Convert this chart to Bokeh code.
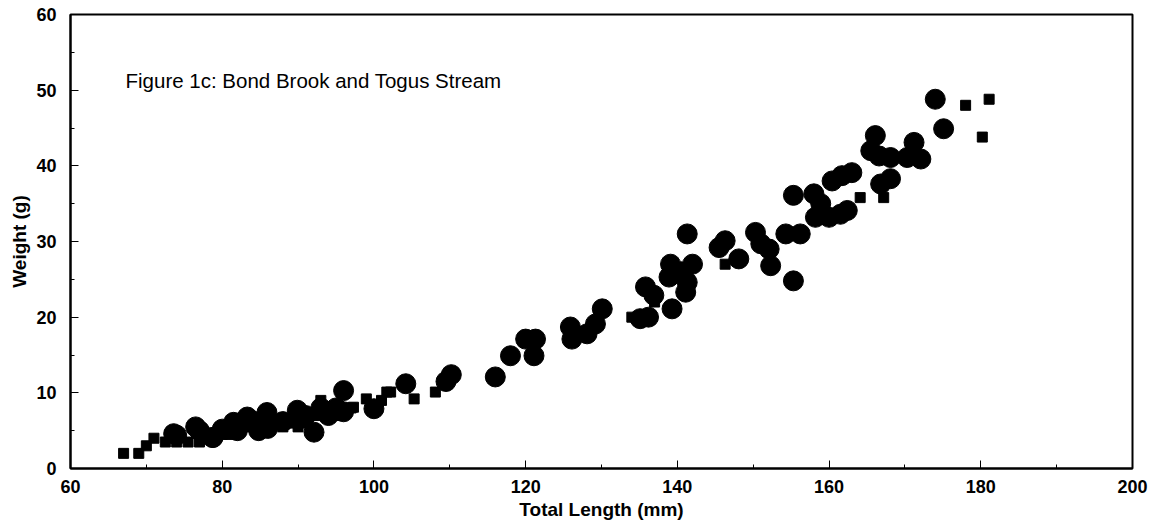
from bokeh.plotting import figure
from bokeh.embed import file_html
from bokeh.resources import INLINE
from bokeh.models import Label, FixedTicker

# Circles (one sample)
circle_len = [74, 77, 78.7, 80, 81.5, 82, 84, 84.8, 85.7, 86, 88, 89.9, 90, 91, 92.1, 93, 94, 95, 96, 96,
              100, 104.2, 109.5, 110.2, 116, 118, 120, 121.3, 121.1, 125.9, 126.1, 128.1, 129.2, 130.1,
              135.1, 136.2, 135.8, 136.9, 138.9, 139.1, 139.3, 141.1, 141.3, 141.3, 142, 140.5,
              145.5, 146.3, 148.1, 150.3, 151, 152.1, 152.3, 154.3, 155.3, 155.3, 156.2,
              158, 158.2, 158.9, 160, 161.5, 162.4, 160.4, 161.7, 163, 165.5, 166.1, 166.6, 168.1,
              166.8, 168.1, 170.3, 171.2, 172.1, 174, 175.1, 73.6, 76.5, 78.8, 83.3, 85.9]
circle_wt = [4.4, 5.0, 4.1, 5.2, 6.1, 5.0, 6.3, 5.0, 6.6, 5.3, 6.2, 7.7, 6.5, 7.0, 4.8, 8.0, 7.0, 8.0, 10.3, 7.5,
             7.9, 11.2, 11.5, 12.4, 12.1, 14.9, 17.1, 17.1, 14.9, 18.7, 17.1, 17.8, 19.1, 21.1,
             19.8, 20.0, 24.0, 22.9, 25.3, 27.0, 21.1, 23.3, 24.6, 31.0, 27.0, 26.0,
             29.2, 30.1, 27.7, 31.2, 29.7, 29.0, 26.8, 31.0, 36.1, 24.8, 31.0,
             36.3, 33.2, 35.0, 33.2, 33.6, 34.1, 38.0, 38.7, 39.1, 42.0, 44.0, 41.3, 41.1,
             37.6, 38.3, 41.1, 43.1, 40.9, 48.8, 44.9, 4.6, 5.5, 4.1, 6.8, 7.4]

# Squares (other sample)
square_len = [67, 69, 70, 71, 72.5, 74, 75.5, 77, 78, 80, 81, 82, 83, 85, 86, 88, 89, 90, 91,
              92.5, 93, 94, 95, 97, 97.3, 99, 101, 101.7, 102.2, 105.3, 108.1,
              134, 137, 139.5, 146.3, 164.1, 167.2, 178, 181.1, 180.2]
square_wt = [2.0, 2.0, 3.0, 4.0, 3.5, 3.5, 3.5, 3.5, 4.0, 4.5, 4.5, 5.0, 5.5, 5.5, 5.0, 5.5, 6.0, 5.5, 6.0,
             7.0, 9.0, 7.5, 7.0, 8.0, 8.1, 9.2, 9.0, 10.1, 10.1, 9.2, 10.1,
             20.0, 22.0, 21.0, 27.0, 35.8, 35.8, 48.0, 48.8, 43.8]

x_ticks = [60, 80, 100, 120, 140, 160, 180, 200]
x_minor = [70, 90, 110, 130, 150, 170, 190]
y_ticks = [0, 10, 20, 30, 40, 50, 60]
y_minor = [5, 15, 25, 35, 45, 55]
title_text = "Figure 1c: Bond Brook and Togus Stream"

p = figure(width=1156, height=527, x_range=(60, 200), y_range=(0, 60),
           output_backend="svg", toolbar_location=None,
           min_border_left=70, min_border_right=24, min_border_top=14, min_border_bottom=59)

p.xgrid.visible = False
p.ygrid.visible = False
p.outline_line_color = "black"
p.outline_line_width = 2
p.background_fill_color = "white"
p.border_fill_color = "white"

for ax in (p.xaxis[0], p.yaxis[0]):
    ax.major_tick_in = 8
    ax.major_tick_out = 0
    ax.minor_tick_in = 4
    ax.minor_tick_out = 0
    ax.axis_line_color = "black"
    ax.axis_line_width = 2
    ax.major_tick_line_color = "black"
    ax.minor_tick_line_color = "black"
    ax.major_label_text_font = "Liberation Sans"
    ax.major_label_text_font_style = "bold"
    ax.major_label_text_font_size = "18px"
    ax.major_label_text_color = "black"
    ax.axis_label_text_font = "Liberation Sans"
    ax.axis_label_text_font_style = "bold"
    ax.axis_label_text_font_size = "19px"
    ax.axis_label_text_color = "black"

p.xaxis[0].ticker = FixedTicker(ticks=x_ticks, minor_ticks=x_minor)
p.yaxis[0].ticker = FixedTicker(ticks=y_ticks, minor_ticks=y_minor)
p.xaxis[0].axis_label = "Total Length (mm)"
p.yaxis[0].axis_label = "Weight (g)"
p.xaxis[0].major_label_standoff = 11
p.yaxis[0].major_label_standoff = 14
p.xaxis[0].axis_label_standoff = 3
p.yaxis[0].axis_label_standoff = 3

p.scatter(square_len, square_wt, marker="square", size=10, color="black")
p.scatter(circle_len, circle_wt, marker="circle", size=20, color="black")

p.add_layout(Label(x=55, y=388, x_units="screen", y_units="screen", text=title_text,
                   text_font="Liberation Sans", text_font_size="20.5px", text_color="black",
                   text_baseline="middle"))

open("out.html", "w").write(file_html(p, INLINE))
